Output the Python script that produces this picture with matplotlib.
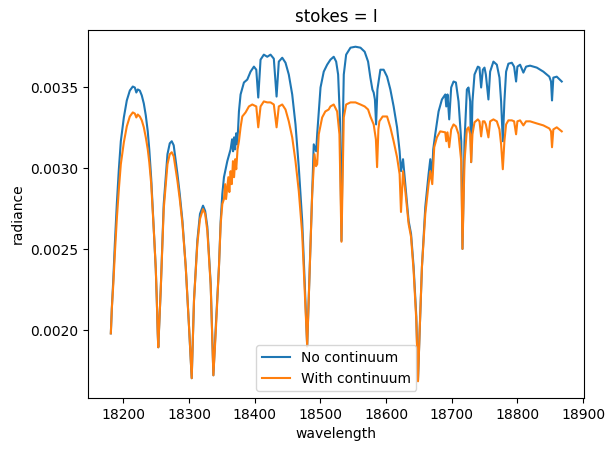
import matplotlib
matplotlib.use("Agg")
import matplotlib.pyplot as plt

# Radiance without continuum
wl_no = [18181.0, 18182.5, 18184.8, 18187.1, 18190.1, 18193.2, 18196.2, 18200.8, 18205.3, 18209.9,
         18214.4, 18217.5, 18219.8, 18222.0, 18225.1, 18228.1, 18231.2, 18234.2, 18237.2, 18239.5,
         18242.5, 18244.8, 18247.1, 18249.4, 18250.9, 18252.4, 18253.2,
         18257.0, 18261.5, 18267.2, 18270.7, 18273.7, 18276.7, 18282.4, 18285.9, 18290.0, 18295.0,
         18300.0, 18304.1,
         18307.6, 18312.7, 18316.7, 18321.3, 18324.6, 18327.9, 18333.0, 18337.1,
         18340.6, 18345.6, 18348.2, 18350.7, 18353.2, 18358.3, 18363.3, 18365.6, 18367.1, 18368.6,
         18370.2, 18371.7, 18373.2, 18374.7, 18376.0, 18378.5, 18383.6, 18388.7, 18393.7, 18398.8,
         18402.4, 18405.4, 18408.9, 18413.9, 18419.1, 18424.1, 18429.1,
         18433.3, 18436.7, 18441.9, 18446.9, 18451.9, 18457.1, 18462.1, 18467.1, 18472.3, 18476.2,
         18479.9, 18483.8, 18487.5, 18489.9, 18493.6, 18495.1, 18500.2, 18505.1, 18510.3, 18515.3,
         18520.3, 18524.0, 18527.0, 18529.8, 18532.1, 18534.3, 18535.6, 18539.2, 18545.8, 18553.4,
         18561.0, 18567.4, 18572.6, 18576.1, 18579.2, 18581.1, 18583.0, 18584.8, 18586.8, 18591.3,
         18596.3, 18601.5, 18606.5, 18611.5, 18616.7, 18620.6, 18622.7, 18625.8, 18629.3, 18634.3,
         18638.0, 18641.9, 18646.0, 18648.6, 18651.0, 18654.6, 18659.7, 18664.7, 18667.3, 18669.8,
         18671.8, 18674.8, 18679.9, 18685.0, 18690.1, 18691.6, 18693.5, 18696.1, 18699.1, 18702.7,
         18706.3, 18710.3, 18714.4, 18716.3, 18719.4, 18723.0, 18725.5, 18728.0, 18729.5, 18731.5,
         18734.6, 18739.7, 18742.2, 18744.7, 18747.3, 18749.8, 18751.9, 18755.8, 18758.4, 18763.4,
         18768.6, 18772.6, 18775.1, 18777.7, 18780.1, 18782.7, 18786.2, 18791.4, 18794.9, 18797.9,
         18799.9, 18804.0, 18809.0, 18813.1, 18819.2, 18829.4, 18839.4, 18848.5, 18851.1, 18852.6,
         18854.6, 18859.8, 18867.4]
rad_no = [0.001980, 0.002133, 0.002318, 0.002533, 0.002779, 0.002994, 0.003167, 0.003314, 0.003419, 0.003480,
          0.003505, 0.003499, 0.003468, 0.003487, 0.003480, 0.003450, 0.003400, 0.003327, 0.003228, 0.003117,
          0.002933, 0.002748, 0.002564, 0.002379, 0.002195, 0.001980, 0.001894,
          0.002256, 0.002779, 0.003087, 0.003154, 0.003167, 0.003142, 0.002964, 0.002841, 0.002675, 0.002392,
          0.002023, 0.001703,
          0.002185, 0.002554, 0.002718, 0.002769, 0.002736, 0.002638, 0.002287, 0.001721,
          0.002010, 0.002392, 0.002675, 0.002841, 0.002945, 0.003044, 0.003117, 0.003179, 0.003105, 0.003191,
          0.003117, 0.003216, 0.003148, 0.003241, 0.003351, 0.003456, 0.003530, 0.003548, 0.003597, 0.003628,
          0.003609, 0.003437, 0.003671, 0.003702, 0.003689, 0.003702, 0.003677,
          0.003443, 0.003659, 0.003683, 0.003652, 0.003579, 0.003456, 0.003271, 0.003007, 0.002675, 0.002287,
          0.001900, 0.002392, 0.002859, 0.003148, 0.003105, 0.003210, 0.003499, 0.003597, 0.003640, 0.003671,
          0.003689, 0.003659, 0.003579, 0.003302, 0.002552, 0.003302, 0.003579, 0.003702, 0.003745, 0.003751,
          0.003745, 0.003720, 0.003659, 0.003560, 0.003486, 0.003468, 0.003425, 0.003271, 0.003487, 0.003609,
          0.003609, 0.003566, 0.003487, 0.003382, 0.003253, 0.003105, 0.002982, 0.003056, 0.002902, 0.002675,
          0.002595, 0.002392, 0.002084, 0.001691, 0.001980, 0.002392, 0.002761, 0.002964, 0.003056, 0.002945,
          0.003117, 0.003210, 0.003351, 0.003425, 0.003456, 0.003382, 0.003456, 0.003302, 0.003499, 0.003536,
          0.003530, 0.003413, 0.003167, 0.002502, 0.003167, 0.003487, 0.003499, 0.003413, 0.003038, 0.003413,
          0.003579, 0.003628, 0.003622, 0.003499, 0.003609, 0.003622, 0.003579, 0.003425, 0.003597, 0.003659,
          0.003640, 0.003560, 0.003413, 0.003167, 0.003413, 0.003597, 0.003646, 0.003652, 0.003628, 0.003536,
          0.003628, 0.003640, 0.003591, 0.003628, 0.003634, 0.003622, 0.003597, 0.003566, 0.003536, 0.003419,
          0.003560, 0.003566, 0.003536]

# Radiance with continuum
wl_with = [18181.0, 18182.5, 18184.8, 18187.1, 18190.1, 18193.2, 18196.2, 18200.8, 18205.3, 18209.9,
           18214.4, 18217.5, 18219.8, 18222.0, 18225.1, 18228.1, 18231.2, 18234.2, 18237.2, 18239.5,
           18242.5, 18244.8, 18247.1, 18249.4, 18250.9, 18252.4, 18253.2,
           18257.0, 18261.5, 18267.2, 18270.7, 18273.7, 18276.7, 18282.4, 18285.9, 18290.0, 18295.0,
           18300.0, 18304.1,
           18307.6, 18312.7, 18316.7, 18321.3, 18324.6, 18327.9, 18333.0, 18337.1,
           18340.6, 18345.6, 18348.2, 18350.7, 18353.2, 18355.0, 18356.4, 18358.3, 18359.9, 18361.4,
           18363.3, 18365.1, 18366.9, 18368.6, 18370.3, 18371.9, 18373.9, 18376.0, 18378.5, 18381.1,
           18386.1, 18391.2, 18396.3, 18402.4, 18405.4, 18408.9, 18413.9, 18419.1, 18424.1, 18429.1,
           18433.3, 18436.7, 18441.9, 18446.9, 18451.9, 18457.1, 18462.1, 18467.1, 18472.3, 18476.2,
           18479.9, 18483.8, 18487.5, 18491.0, 18493.3, 18495.1, 18497.5, 18502.7, 18507.5, 18512.6,
           18515.3, 18520.3, 18525.5, 18529.0, 18532.1, 18535.6, 18539.2, 18545.8, 18553.4, 18561.0,
           18567.4, 18572.6, 18576.1, 18581.1, 18584.5, 18586.3, 18588.3, 18589.8, 18594.8, 18601.5,
           18606.5, 18611.5, 18616.7, 18620.6, 18622.7, 18625.8, 18629.3, 18634.3, 18638.0, 18641.9,
           18646.0, 18648.6, 18651.0, 18654.6, 18659.7, 18664.7, 18667.3, 18670.3, 18673.3, 18677.4,
           18682.4, 18690.1, 18691.6, 18693.5, 18696.1, 18699.1, 18702.7, 18706.3, 18710.3, 18714.4,
           18716.3, 18719.4, 18723.0, 18725.5, 18728.0, 18729.5, 18731.5, 18734.6, 18739.7, 18742.2,
           18744.7, 18747.3, 18749.8, 18751.9, 18755.8, 18758.4, 18763.4, 18768.6, 18772.6, 18775.1,
           18777.7, 18780.1, 18782.7, 18786.2, 18791.4, 18794.9, 18797.9, 18799.9, 18804.0, 18809.0,
           18813.1, 18819.2, 18829.4, 18839.4, 18848.5, 18851.1, 18852.6, 18854.6, 18859.8, 18867.4]
rad_with = [0.001980, 0.002133, 0.002287, 0.002472, 0.002687, 0.002871, 0.003025, 0.003160, 0.003259, 0.003320,
            0.003345, 0.003338, 0.003314, 0.003332, 0.003320, 0.003296, 0.003253, 0.003191, 0.003117, 0.003038,
            0.002902, 0.002736, 0.002564, 0.002379, 0.002195, 0.001980, 0.001894,
            0.002256, 0.002748, 0.003025, 0.003087, 0.003099, 0.003074, 0.002921, 0.002810, 0.002656, 0.002392,
            0.002023, 0.001703,
            0.002185, 0.002533, 0.002687, 0.002748, 0.002718, 0.002613, 0.002275, 0.001721,
            0.001980, 0.002392, 0.002656, 0.002779, 0.002810, 0.002902, 0.002810, 0.002884, 0.002945, 0.002853,
            0.002982, 0.002902, 0.003044, 0.002945, 0.003056, 0.002994, 0.003117, 0.003167, 0.003253, 0.003320,
            0.003345, 0.003382, 0.003394, 0.003382, 0.003253, 0.003382, 0.003413, 0.003407, 0.003407, 0.003394,
            0.003253, 0.003382, 0.003394, 0.003363, 0.003290, 0.003191, 0.003044, 0.002859, 0.002595, 0.002244,
            0.001900, 0.002392, 0.002840, 0.003087, 0.003013, 0.003025, 0.003210, 0.003314, 0.003351, 0.003363,
            0.003382, 0.003394, 0.003351, 0.003210, 0.002546, 0.003314, 0.003394, 0.003407, 0.003407, 0.003394,
            0.003382, 0.003363, 0.003320, 0.003271, 0.003179, 0.003007, 0.003241, 0.003290, 0.003320, 0.003320,
            0.003253, 0.003167, 0.003068, 0.002964, 0.002730, 0.002982, 0.002859, 0.002656, 0.002576, 0.002367,
            0.002060, 0.001684, 0.001980, 0.002392, 0.002718, 0.002902, 0.002982, 0.002902, 0.003130, 0.003191,
            0.003228, 0.003222, 0.003167, 0.003222, 0.003130, 0.003240, 0.003271, 0.003259, 0.003210, 0.003044,
            0.002502, 0.003044, 0.003240, 0.003253, 0.003210, 0.003038, 0.003210, 0.003284, 0.003302, 0.003290,
            0.003197, 0.003290, 0.003290, 0.003271, 0.003191, 0.003290, 0.003302, 0.003290, 0.003240, 0.003148,
            0.002994, 0.003167, 0.003271, 0.003296, 0.003296, 0.003290, 0.003210, 0.003290, 0.003296, 0.003265,
            0.003290, 0.003290, 0.003277, 0.003265, 0.003246, 0.003228, 0.003130, 0.003240, 0.003253, 0.003228]

fig = plt.figure(figsize=(6.14, 4.53), dpi=100)
ax = fig.add_axes([0.1438, 0.1214, 0.8078, 0.8124])

ax.plot(wl_no, rad_no, label="No continuum")
ax.plot(wl_with, rad_with, label="With continuum")

ax.set_title("stokes = I")
ax.set_xlabel("wavelength")
ax.set_ylabel("radiance")
ax.legend(loc="lower center")

fig.savefig("out.png", dpi=100)
